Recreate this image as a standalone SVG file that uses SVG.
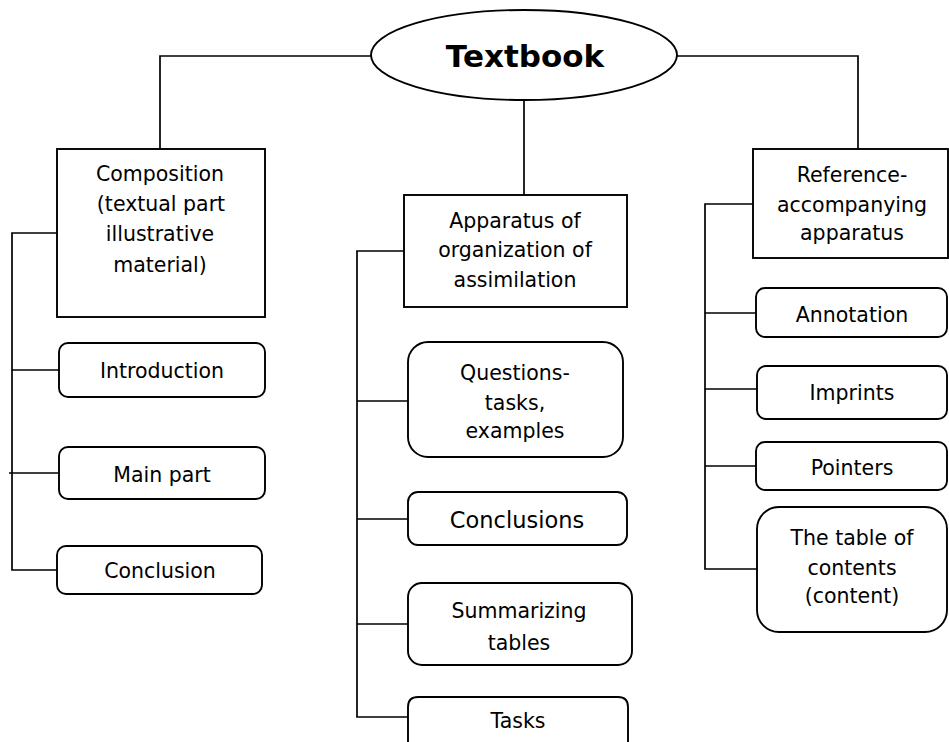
<svg xmlns="http://www.w3.org/2000/svg" width="949" height="742" viewBox="0 0 949 742">
<style>
.box{fill:#fff;stroke:#000;stroke-width:1.9}
.ln{fill:none;stroke:#000;stroke-width:1.7}
text{font-family:"DejaVu Sans","Liberation Sans",sans-serif;font-size:20.5px;fill:#000;text-anchor:middle}
.big{font-size:22.5px}
.title{font-weight:bold;font-size:31px}
</style>
<rect width="949" height="742" fill="#fff"/>
<g id="connectors">
<polyline class="ln" points="371,56 160,56 160,149"/>
<polyline class="ln" points="677,56 858,56 858,149"/>
<line class="ln" x1="524" y1="100" x2="524" y2="195" stroke-width="1.2"/>
<polyline class="ln" points="59,233 12,233 12,570 57,570"/>
<line class="ln" x1="12" y1="370" x2="59" y2="370"/>
<line class="ln" x1="9" y1="473" x2="59" y2="473"/>
<polyline class="ln" points="404,251 357,251 357,717 408,717"/>
<line class="ln" x1="357" y1="401" x2="408" y2="401"/>
<line class="ln" x1="357" y1="519" x2="408" y2="519"/>
<line class="ln" x1="357" y1="624" x2="408" y2="624"/>
<polyline class="ln" points="753,204 705,204 705,569 757,569"/>
<line class="ln" x1="705" y1="313" x2="756" y2="313"/>
<line class="ln" x1="705" y1="389" x2="757" y2="389"/>
<line class="ln" x1="705" y1="466" x2="756" y2="466"/>
</g>
<g id="textbook">
<ellipse class="box" cx="524" cy="55" rx="153" ry="45"/>
<text class="title" x="525" y="67">Textbook</text>
</g>
<g id="composition">
<rect class="box" x="57" y="149" width="208" height="168"/>
<text x="160" y="181">Composition</text>
<text x="161" y="211">(textual part</text>
<text x="160" y="241">illustrative</text>
<text x="160" y="272">material)</text>
</g>
<g id="introduction">
<rect class="box" x="59" y="343" width="206" height="54" rx="9"/>
<text x="162" y="378">Introduction</text>
</g>
<g id="main-part">
<rect class="box" x="59" y="447" width="206" height="52" rx="9"/>
<text x="162" y="482">Main part</text>
</g>
<g id="conclusion">
<rect class="box" x="57" y="546" width="205" height="48" rx="9"/>
<text x="160" y="578">Conclusion</text>
</g>
<g id="apparatus">
<rect class="box" x="404" y="195" width="223" height="112"/>
<text x="515" y="228">Apparatus of</text>
<text x="515" y="257">organization of</text>
<text x="515" y="287">assimilation</text>
</g>
<g id="questions">
<rect class="box" x="408" y="342" width="215" height="115" rx="20"/>
<text x="515" y="380">Questions-</text>
<text x="515" y="410">tasks,</text>
<text x="515" y="438">examples</text>
</g>
<g id="conclusions">
<rect class="box" x="408" y="492" width="219" height="53" rx="10"/>
<text class="big" x="517" y="528">Conclusions</text>
</g>
<g id="summarizing">
<rect class="box" x="408" y="583" width="224" height="82" rx="14"/>
<text x="519" y="618">Summarizing</text>
<text x="519" y="650">tables</text>
</g>
<g id="tasks">
<path class="box" d="M408,742 V707 Q408,697 418,697 H618 Q628,697 628,707 V742"/>
<text x="518" y="728">Tasks</text>
</g>
<g id="reference">
<rect class="box" x="753" y="149" width="195" height="109"/>
<text x="852" y="182">Reference-</text>
<text x="852" y="212">accompanying</text>
<text x="852" y="240">apparatus</text>
</g>
<g id="annotation">
<rect class="box" x="756" y="288" width="191" height="49" rx="9"/>
<text x="852" y="322">Annotation</text>
</g>
<g id="imprints">
<rect class="box" x="757" y="366" width="190" height="53" rx="9"/>
<text x="852" y="400">Imprints</text>
</g>
<g id="pointers">
<rect class="box" x="756" y="442" width="191" height="48" rx="9"/>
<text x="852" y="475">Pointers</text>
</g>
<g id="table-of-contents">
<rect class="box" x="757" y="507" width="190" height="125" rx="22"/>
<text x="852" y="545">The table of</text>
<text x="852" y="575">contents</text>
<text x="852" y="603">(content)</text>
</g>
</svg>
